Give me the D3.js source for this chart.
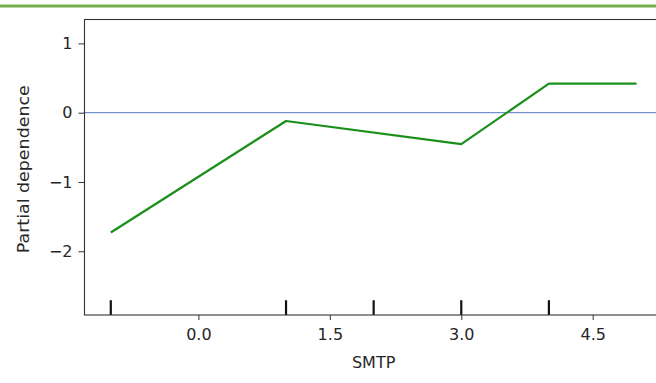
<!DOCTYPE html>
<html>
<head>
<meta charset="utf-8">
<script src="https://cdn.jsdelivr.net/npm/d3@7"></script>
<style>
  html, body { margin: 0; padding: 0; background: #ffffff; }
  svg { display: block; }
  text { font-family: "DejaVu Sans", sans-serif; fill: #262626; }
</style>
</head>
<body>
<svg id="chart" width="656" height="383"></svg>
<script>
// Partial dependence of the model output on SMTP
const gridValues = [-1, 1, 3, 4, 5];
const pdValues = [-1.73, -0.12, -0.455, 0.42, 0.42];
// Deciles of SMTP shown as rug marks along the bottom
const decileValues = [-1, 1, 2, 3, 4];
const xTickValues = [0, 1.5, 3, 4.5];
const yTickValues = [-2, -1, 0, 1];
const xDomain = [-1.3, 5.3];
const yDomain = [-2.92, 1.345];

const svg = d3.select("#chart");
const W = 656, H = 383;
const plot = { left: 84.5, right: 662.8, top: 19.5, bottom: 315 };

const x = d3.scaleLinear().domain(xDomain).range([plot.left, plot.right]);
const y = d3.scaleLinear().domain(yDomain).range([plot.bottom, plot.top]);

// Rule across the top of the page
svg.append("rect")
  .attr("x", 0).attr("y", 4.5).attr("width", W).attr("height", 3)
  .attr("fill", "#74b04f");

// Zero reference line
svg.append("line")
  .attr("x1", plot.left).attr("x2", plot.right)
  .attr("y1", y(0)).attr("y2", y(0))
  .attr("stroke", "#5578c4").attr("stroke-width", 1);

// Decile rug marks (5% of the axes height)
svg.append("g").selectAll("line")
  .data(decileValues)
  .join("line")
  .attr("x1", d => x(d)).attr("x2", d => x(d))
  .attr("y1", plot.bottom).attr("y2", plot.bottom - 0.05 * (plot.bottom - plot.top))
  .attr("stroke", "#111").attr("stroke-width", 2.2);

// Partial dependence curve
const pts = gridValues.map((g, i) => [g, pdValues[i]]);
svg.append("path")
  .datum(pts)
  .attr("fill", "none")
  .attr("stroke", "#1a901a")
  .attr("stroke-width", 2.2)
  .attr("stroke-linejoin", "round")
  .attr("d", d3.line().x(d => x(d[0])).y(d => y(d[1])));

// Axes
const fmtX = d3.format(".1f");
const xAxis = svg.append("g")
  .attr("transform", `translate(0,${plot.bottom})`)
  .call(d3.axisBottom(x).tickValues(xTickValues).tickFormat(fmtX).tickSize(5).tickPadding(9));
const yAxis = svg.append("g")
  .attr("transform", `translate(${plot.left},0)`)
  .call(d3.axisLeft(y).tickValues(yTickValues).tickFormat(d => d < 0 ? "\u2212" + Math.abs(d) : String(d)).tickSize(6).tickPadding(6));

[xAxis, yAxis].forEach(g => {
  g.select(".domain").remove();
  g.selectAll(".tick line").attr("stroke", "#333").attr("stroke-width", 1);
  g.selectAll(".tick text").attr("font-size", 16).attr("font-family", "DejaVu Sans, sans-serif").attr("fill", "#262626");
});

// Axes frame
svg.append("rect")
  .attr("x", plot.left).attr("y", plot.top)
  .attr("width", plot.right - plot.left).attr("height", plot.bottom - plot.top)
  .attr("fill", "none").attr("stroke", "#333").attr("stroke-width", 1.1);

// Axis titles
svg.append("text")
  .attr("x", (plot.left + plot.right) / 2).attr("y", 368)
  .attr("text-anchor", "middle").attr("font-size", 16)
  .text("SMTP");
svg.append("text")
  .attr("transform", `translate(29,${(plot.top + plot.bottom) / 2 + 2}) rotate(-90) scale(1.09,1)`)
  .attr("text-anchor", "middle").attr("font-size", 16)
  .text("Partial dependence");
</script>
</body>
</html>
